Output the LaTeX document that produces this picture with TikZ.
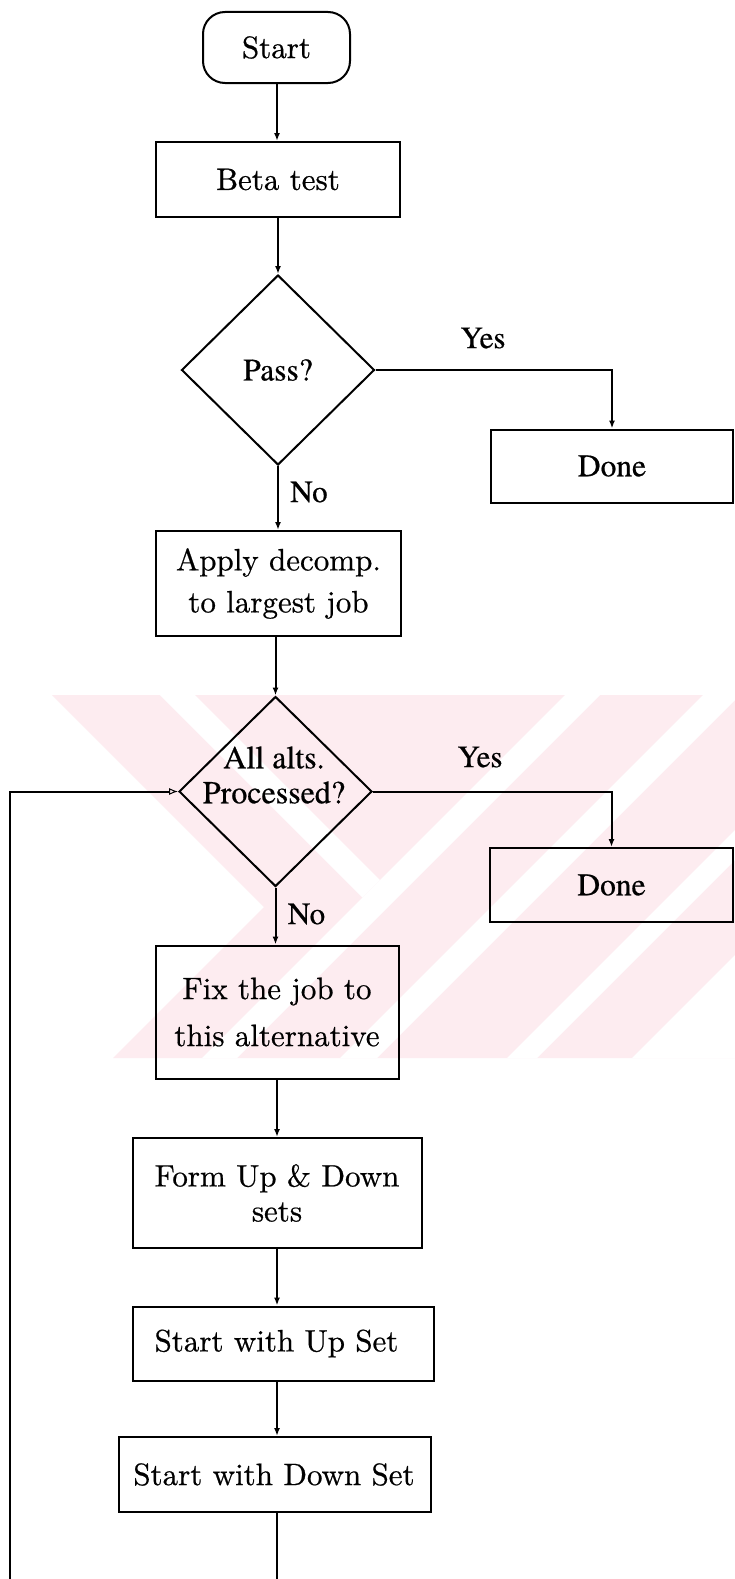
\documentclass[tikz,border=0pt]{standalone}
\usepackage{fontspec}
\usetikzlibrary{shapes.geometric,arrows.meta}
\newfontfamily\cmfont{lmroman10-regular.otf}[FakeBold=0.6]
\newfontfamily\tmfont{texgyretermes-regular.otf}[FakeBold=0.6]
\definecolor{wmpink}{RGB}{253,236,240}

\begin{document}
\begin{tikzpicture}[x=1pt,y=-1pt,
  line width=2pt,
  box/.style={draw, rectangle, inner sep=0pt, align=center,
    font=\cmfont\fontsize{31}{42}\selectfont},
  tbox/.style={box, font=\tmfont\fontsize{31.5}{36}\selectfont},
  term/.style={box, rounded corners=22pt},
  decision/.style={draw, diamond, inner sep=0pt,
    font=\tmfont\fontsize{31.5}{36}\selectfont},
  tag/.style={inner sep=0pt, font=\tmfont\fontsize{31}{35}\selectfont},
  arr/.style={-{Latex[length=8pt,width=6pt]}},
  looparr/.style={-{Latex[open,length=9pt,width=7pt,line width=1pt]}}]

% page
\fill[white] (0,0) rectangle (735,1579);
\useasboundingbox (0,0) rectangle (735,1579);

% faint striped background mark
\begin{scope}
  \clip (52,695) rectangle (735,1058);
  \fill[wmpink] (52,695) -- (264,907) -- (113,1058) -- (760,1058) -- (760,695) -- cycle;
  \fill[white] (160,695) -- (195,695) -- (380,880) -- (362.5,897.5) -- cycle;
  \fill[white] (565,695) -- (600,695) -- (237,1058) -- (202,1058) -- cycle;
  \fill[white] (703,695) -- (740,695) -- (377,1058) -- (340,1058) -- cycle;
  \fill[white] (870,695) -- (900,695) -- (537,1058) -- (507,1058) -- cycle;
  \fill[white] (995,695) -- (1300,695) -- (1300,1058) -- (632,1058) -- cycle;
\end{scope}

% reference points
\coordinate (axis) at (277,0);
\coordinate (pageend) at (277,1582);
\coordinate (loopfoot) at (10,1582);

% nodes
\node[term, minimum width=147pt, minimum height=71pt] (start) at (276.5,47.5) {Start};
\node[box, minimum width=244pt, minimum height=75pt] (beta) at (278,179.5) {Beta test};
\node[decision, minimum width=193pt, minimum height=190pt] (pass) at (278,370) {Pass?};
\node[tbox, minimum width=242pt, minimum height=73pt] (done1) at (612,466) {Done};
\node[box, minimum width=245pt, minimum height=105pt] (apply) at (278.5,583.5)
  {Apply decomp.\\to largest job};
\node[decision, minimum width=193pt, minimum height=190pt] (alts) at (275.5,791.5) {};
\node[tag, align=center, font=\tmfont\fontsize{32}{35}\selectfont] (altstext) at (274,775)
  {All alts.\\Processed?};
\node[tbox, minimum width=243pt, minimum height=74pt] (done2) at (611.5,885) {Done};
\node[box, minimum width=243pt, minimum height=133pt,
  font=\cmfont\fontsize{31}{47}\selectfont] (fix) at (277,1012)
  {Fix the job to\\this alternative};
\node[box, minimum width=289pt, minimum height=110pt,
  font=\cmfont\fontsize{31}{35}\selectfont] (form) at (277,1193)
  {Form Up \& Down\\sets};
\node[box, minimum width=301pt, minimum height=74pt] (up) at (283,1343.5)
  {Start with Up Set\hspace*{13pt}};
\node[box, minimum width=312pt, minimum height=75pt] (down) at (275,1474.5)
  {Start with Down Set\hspace*{2pt}};

% branch labels
\node[tag] (yes1) at (483,338) {Yes};
\node[tag] (no1) at (309,492) {No};
\node[tag] (yes2) at (480,757) {Yes};
\node[tag] (no2) at (306.5,914) {No};

% connectors
\draw[arr] (start.south -| axis) -- (beta.north -| axis);
\draw[arr] (beta.south -| pass.north) -- (pass.north);
\draw[arr] (pass.east) -| (done1.north);
\draw[arr] (pass.south) -- (apply.north -| pass.south);
\draw[arr] (apply.south -| alts.north) -- (alts.north);
\draw[arr] (alts.east) -| (done2.north);
\draw[arr] (alts.south) -- (fix.north -| alts.south);
\draw[arr] (fix.south -| axis) -- (form.north -| axis);
\draw[arr] (form.south -| axis) -- (up.north -| axis);
\draw[arr] (up.south -| axis) -- (down.north -| axis);
\draw (down.south -| axis) -- (pageend);
\draw[looparr] (loopfoot) |- (alts.west);
\end{tikzpicture}
\end{document}
